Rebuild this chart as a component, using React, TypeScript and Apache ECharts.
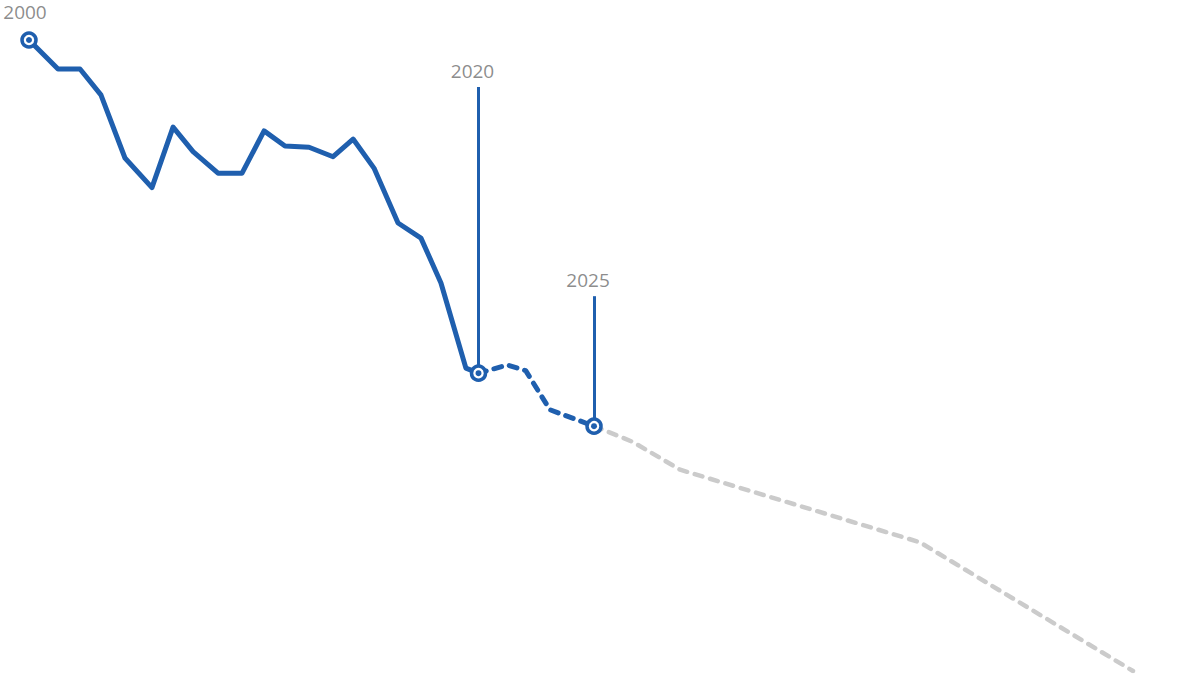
import React, { useEffect, useRef } from "react";
import * as echarts from "echarts";

// Historic values (index, 2000 = 100)
const histYears = [2000, 2001.29, 2002.27, 2003.2, 2004.27, 2005.47, 2006.41, 2007.3, 2008.41, 2009.48, 2010.46, 2011.39, 2012.46, 2013.53, 2014.42, 2015.35, 2016.42, 2017.44, 2018.33, 2019.44, 2020];
const histValues = [100, 95.4, 95.4, 91.3, 81.3, 76.6, 86.2, 82.3, 78.9, 78.9, 85.6, 83.2, 83.0, 81.5, 84.3, 79.7, 71.0, 68.6, 61.5, 48.0, 47.2];
// Estimated values 2020–2025
const estYears = [2020, 2021.29, 2022.1, 2023.18, 2025.14];
const estValues = [47.2, 48.5, 47.6, 41.4, 38.8];
// Projection
const projYears = [2025.14, 2026.87, 2028.97, 2039.64, 2049.12];
const projValues = [38.8, 36.3, 31.9, 20.4, 0];

// Highlighted years
const markerLabels = ["2000", "2020", "2025"];
const markerYears = [2000, 2020, 2025.14];
const markerValues = [100, 47.2, 38.8];
const leaderTops = [null, 92.55, 59.4];

const BLUE = "#1f5fae";
const GREY = "#cbcbcb";

const zip = (xs: number[], ys: number[]) => xs.map((x, i) => [x, ys[i]]);

export default function App() {
  const ref = useRef<HTMLDivElement>(null);
  useEffect(() => {
    if (!ref.current) return;
    const chart = echarts.init(ref.current, null, { renderer: "svg" });
    const labelData = markerYears.map((y, i) => ({
      name: markerLabels[i],
      value: [y, leaderTops[i] == null ? markerValues[i] : leaderTops[i]],
      label: {
        offset: leaderTops[i] == null ? [-4, -28.5] : [-6, -16],
      },
    }));
    const leaderData = markerYears
      .map((y, i) =>
        leaderTops[i] == null
          ? null
          : [{ coord: [y, markerValues[i]] }, { coord: [y, leaderTops[i]] }]
      )
      .filter((d) => d != null);
    chart.setOption({
      animation: false,
      grid: { left: 29, right: 47.25, top: 40, bottom: 9 },
      xAxis: { type: "value", min: 2000, max: 2050, show: false },
      yAxis: { type: "value", min: 0, max: 100, show: false },
      series: [
        {
          type: "line",
          data: zip(projYears, projValues),
          symbol: "none",
          lineStyle: { color: GREY, width: 4.5, type: [8, 8], cap: "round", join: "round" },
          z: 2,
        },
        {
          type: "line",
          data: zip(estYears, estValues),
          symbol: "none",
          lineStyle: { color: BLUE, width: 5, type: [8, 8], cap: "round", join: "round" },
          z: 3,
        },
        {
          type: "line",
          data: zip(histYears, histValues),
          symbol: "none",
          lineStyle: { color: BLUE, width: 5, join: "round" },
          z: 3,
        },
        {
          type: "scatter",
          data: zip(markerYears, markerValues),
          symbol: "circle",
          symbolSize: 14,
          itemStyle: { color: "#ffffff", borderColor: BLUE, borderWidth: 3.5, opacity: 1 },
          z: 5,
          silent: true,
          markLine: {
            silent: true,
            symbol: "none",
            label: { show: false },
            lineStyle: { color: BLUE, width: 3, type: "solid", opacity: 1 },
            data: leaderData,
          },
        },
        {
          type: "scatter",
          data: zip(markerYears, markerValues),
          symbol: "circle",
          symbolSize: 6,
          itemStyle: { color: BLUE, opacity: 1 },
          z: 6,
          silent: true,
        },
        {
          type: "scatter",
          data: labelData,
          symbolSize: 0,
          clip: false,
          silent: true,
          z: 7,
          label: {
            show: true,
            position: "inside",
            formatter: "{b}",
            color: "#6e6e6e",
            fontSize: 19,
            lineHeight: 19,
            fontFamily: "Open Sans",
            align: "center",
            verticalAlign: "middle",
          },
        },
      ],
    });
    return () => chart.dispose();
  }, []);
  return (
    <div
      ref={ref}
      style={{ position: "absolute", left: 0, top: 0, width: 1200, height: 680 }}
    />
  );
}
